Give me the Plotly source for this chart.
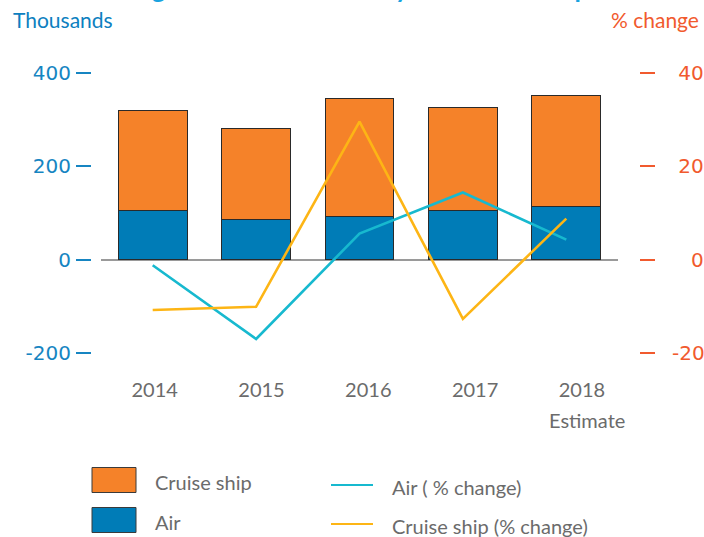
import plotly.graph_objects as go

# ---------------- data ----------------
years = ["2014", "2015", "2016", "2017", "2018"]
air = [106, 87, 93, 106, 113]            # thousands
cruise = [214, 195, 252, 221, 239]       # thousands
air_pct = [-1.2, -17.0, 5.6, 14.4, 4.3]  # % change
cruise_pct = [-10.8, -10.1, 29.6, -12.7, 8.8]

left_ticks = [-200, 0, 200, 400]
left_text = ["-200", "0", "200", "400"]
right_ticks = [-20, 0, 20, 40]
right_text = ["-20", "\u2007\u20080", "\u200820", "\u200840"]

# ---------------- styles ----------------
ORANGE = "#f58229"
BLUE = "#007cb7"
CYAN = "#17b9cf"
YELLOW = "#fdb515"
AXBLUE = "#1685c2"
AXRED = "#f15a2e"
GREY = "#6b6b6b"

W, H = 704, 537
ML, MR, MT, MB = 91, 65, 59, 170
PW = W - ML - MR
PH = H - MT - MB


def px(x):
    return (x - ML) / PW


def py(y):
    return (H - MB - y) / PH


fig = go.Figure()
fig.add_trace(go.Bar(x=years, y=air, name="Air", marker=dict(color=BLUE, line=dict(color="#2a2a2a", width=1)),
                     width=0.665, showlegend=False))
fig.add_trace(go.Bar(x=years, y=cruise, name="Cruise ship", marker=dict(color=ORANGE, line=dict(color="#2a2a2a", width=1)),
                     width=0.665, showlegend=False))
fig.add_trace(go.Scatter(x=years, y=air_pct, name="Air ( % change)", mode="lines", yaxis="y2",
                         line=dict(color=CYAN, width=2.6), showlegend=False))
fig.add_trace(go.Scatter(x=years, y=cruise_pct, name="Cruise ship (% change)", mode="lines", yaxis="y2",
                         line=dict(color=YELLOW, width=2.6), showlegend=False))
# label axis (category labels sit on a slightly wider spacing than the bars)
fig.add_trace(go.Scatter(x=list(range(len(years))), y=air, xaxis="x2", mode="markers",
                         marker=dict(opacity=0), hoverinfo="skip", showlegend=False))

fig.update_layout(
    width=W, height=H, autosize=False,
    margin=dict(l=ML, r=MR, t=MT, b=MB, pad=0, autoexpand=False),
    paper_bgcolor="white", plot_bgcolor="white",
    barmode="stack",
    font=dict(family="Lato", color=GREY, size=20),
    xaxis=dict(domain=[px(101), px(618)], range=[-0.5, 4.5], showticklabels=False, showgrid=False,
               zeroline=False, showline=False, ticks="", automargin=False),
    xaxis2=dict(overlaying="x", anchor="y", side="bottom", range=[-0.503, 4.338],
                tickvals=list(range(len(years))), ticktext=years, showgrid=False, zeroline=False,
                showline=False, ticks="", ticklabelstandoff=9, automargin=False,
                tickfont=dict(family="Lato", size=20, color=GREY)),
    yaxis=dict(range=[-230, 430], anchor="free", position=0, tickvals=left_ticks, ticktext=left_text,
               showgrid=False, zeroline=True, zerolinecolor="#9a9a9a", zerolinewidth=2,
               showline=False, ticks="outside", ticklen=15, tickwidth=2, tickcolor=AXBLUE,
               ticklabelstandoff=1, automargin=False,
               tickfont=dict(family="DejaVu Sans", size=20, color=AXBLUE)),
    yaxis2=dict(range=[-23, 43], overlaying="y", anchor="free", position=1, side="right",
                tickvals=right_ticks, ticktext=right_text, showgrid=False, zeroline=False,
                showline=False, ticks="outside", ticklen=15, tickwidth=2, tickcolor=AXRED,
                ticklabelstandoff=13, automargin=False,
                tickfont=dict(family="DejaVu Sans", size=20, color=AXRED)),
)

ann = []
ann.append(dict(text="Change in visitor arrivals by mode of transport", xref="paper", yref="paper",
                x=px(90), y=py(1), xanchor="left", yanchor="bottom", yshift=-5, showarrow=False,
                font=dict(family="Lato", size=26, color="#1aa3df", weight="bold")))
ann.append(dict(text="Thousands", xref="paper", yref="paper", x=px(11), y=py(20), xanchor="left",
                yanchor="middle", showarrow=False, font=dict(family="Lato", size=21, color="#0c80c0")))
ann.append(dict(text="% change", xref="paper", yref="paper", x=px(701), y=py(20), xanchor="right",
                yanchor="middle", showarrow=False, font=dict(family="Lato", size=21, color=AXRED)))
ann.append(dict(text="Estimate", xref="x2", yref="paper", x=len(years) - 1, y=py(420), xshift=5,
                xanchor="center", yanchor="middle", showarrow=False,
                font=dict(family="Lato", size=20, color=GREY)))

# legend (drawn manually to match the large swatches)
legend_items = [
    ("box", ORANGE, "Cruise ship", 92, 480),
    ("box", BLUE, "Air", 92, 520),
    ("line", CYAN, "Air ( % change)", 331, 485),
    ("line", YELLOW, "Cruise ship (% change)", 331, 524),
]
shapes = []
for kind, col, label, x0, yc in legend_items:
    if kind == "box":
        shapes.append(dict(type="rect", xref="paper", yref="paper", x0=px(x0), x1=px(x0 + 44),
                           y0=py(yc - 12.5), y1=py(yc + 12.5), fillcolor=col,
                           line=dict(color="#3a3a3a", width=1)))
        tx = x0 + 61
    else:
        shapes.append(dict(type="line", xref="paper", yref="paper", x0=px(x0), x1=px(x0 + 42),
                           y0=py(yc), y1=py(yc), line=dict(color=col, width=2)))
        tx = x0 + 59
    ann.append(dict(text=label, xref="paper", yref="paper", x=px(tx), y=py(yc + 2), xanchor="left",
                    yanchor="middle", showarrow=False, font=dict(family="Lato", size=20, color=GREY)))

fig.update_layout(annotations=ann, shapes=shapes)
fig.write_html("out.html", config=dict(displayModeBar=False),
               post_script="document.body.style.margin='0';document.body.style.overflow='hidden';")
